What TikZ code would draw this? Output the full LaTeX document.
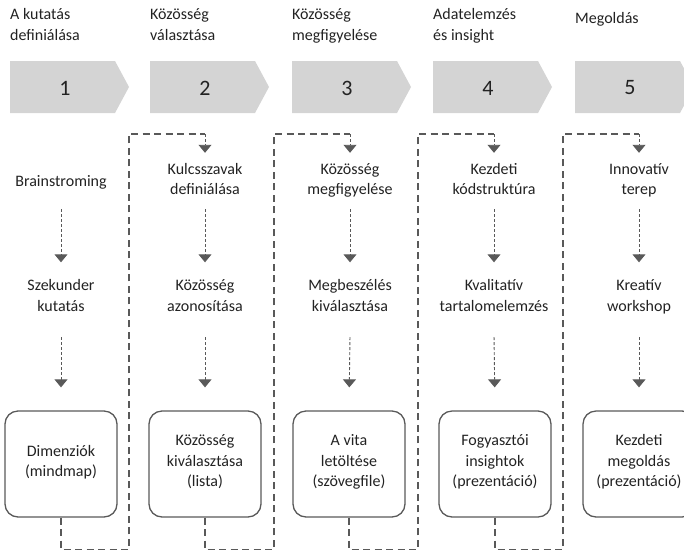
\documentclass[tikz,border=0pt]{standalone}
\usepackage{fontspec}
\setmainfont{Carlito}
\usetikzlibrary{arrows.meta}
\definecolor{chev}{HTML}{D4D4D4}
\definecolor{ln}{HTML}{595959}
\definecolor{txt}{HTML}{222222}
\newcommand{\txtfont}{\fontsize{16}{20.5}\selectfont}
\begin{document}
\begin{tikzpicture}[x=1pt,y=-1pt,
  hdr/.style={anchor=north west, align=left, inner sep=0pt, font=\txtfont, text=txt,
    execute at begin node=\strut},
  num/.style={anchor=center, inner sep=0pt, font=\fontsize{22}{26}\selectfont, text=txt},
  itemA/.style={align=center, inner sep=0pt, minimum height=54pt, font=\txtfont, text=txt,
    execute at begin node=\strut, execute at end node=\strut},
  itemB/.style={align=center, inner sep=0pt, minimum height=72pt, font=\txtfont, text=txt,
    execute at begin node=\strut, execute at end node=\strut},
  outbox/.style={draw=ln, line width=1.3pt, rounded corners=13pt, align=center,
    minimum width=112pt, minimum height=106pt, inner sep=0pt, font=\txtfont, text=txt,
    execute at begin node=\strut, execute at end node=\strut},
  conn/.style={draw=ln, line width=1.1pt, dash pattern=on 7pt off 4.5pt},
  fine/.style={draw=ln, line width=0.9pt, dash pattern=on 3pt off 2pt,
    -{Triangle[width=13pt,length=8pt,fill=ln]}},
]
\useasboundingbox (0,0) rectangle (684,552);
\clip (0,0) rectangle (684,552);

% chevrons
\foreach \i/\x in {1/10,2/150,3/292,4/433,5/575}{
  \fill[chev] (\x,61) -- (\x+105,61) -- (\x+119,87) -- (\x+105,113) -- (\x,113) -- cycle;
  \node[num] (n\i) at (\x+55,88) {\i};
}

% headers
\node[hdr] (h1) at (10,8.5) {A kutatás\\definiálása};
\node[hdr] (h2) at (150,8.5) {Közösség\\választása};
\node[hdr] (h3) at (292,8.5) {Közösség\\megfigyelése};
\node[hdr] (h4) at (433,8.5) {Adatelemzés\\és insight};
\node[hdr] (h5) at (575,8.5) {Megoldás};

% row 1
\node[itemA] (a1) at (61,182) {Brainstroming};
\node[itemA] (a2) at (205,182) {Kulcsszavak\\definiálása};
\node[itemA] (a3) at (350,182) {Közösség\\megfigyelése};
\node[itemA] (a4) at (494,182) {Kezdeti\\kódstruktúra};
\node[itemA] (a5) at (639,182) {Innovatív\\terep};

% row 2
\node[itemB] (b1) at (61,298.5) {Szekunder\\kutatás};
\node[itemB] (b2) at (205,298.5) {Közösség\\azonosítása};
\node[itemB] (b3) at (350,298.5) {Megbeszélés\\kiválasztása};
\node[itemB] (b4) at (494,298.5) {Kvalitatív\\tartalomelemzés};
\node[itemB] (b5) at (639,298.5) {Kreatív\\workshop};

% boxes
\node[outbox] (c1) at (61,464) {Dimenziók\\(mindmap)};
\node[outbox] (c2) at (205,464) {Közösség\\kiválasztása\\(lista)};
\node[outbox] (c3) at (349,464) {A vita\\letöltése\\(szövegfile)};
\node[outbox] (c4) at (495,464) {Fogyasztói\\insightok\\(prezentáció)};
\node[outbox] (c5) at (639,464) {Kezdeti\\megoldás\\(prezentáció)};

% in-column arrows
\foreach \i in {1,...,5}{
  \draw[fine] (a\i.south) -- (b\i.north);
  \draw[fine, shorten <=2.5pt, shorten >=23pt] (b\i.south) -- (c\i.north);
}

% connectors between columns
\coordinate (g1) at (129,549.5); \coordinate (k1) at (129,134); \coordinate (e2) at (205,134);
\coordinate (g2) at (274,549.5); \coordinate (k2) at (274,134); \coordinate (e3) at (350,134);
\coordinate (g3) at (418,549.5); \coordinate (k3) at (418,134); \coordinate (e4) at (494,134);
\coordinate (g4) at (563,549.5); \coordinate (k4) at (563,134); \coordinate (e5) at (639,134);

\draw[conn] (c1.south) |- (g1) -- (k1) -- (e2);
\draw[conn] (c2.south) |- (g2) -- (k2) -- (e3);
\draw[conn] (c3.south) |- (g3) -- (k3) -- (e4);
\draw[conn] (c4.south) |- (g4) -- (k4) -- (e5);

\draw[fine, shorten >=2pt] (e2) -- (a2.north);
\draw[fine, shorten >=2pt] (e3) -- (a3.north);
\draw[fine, shorten >=2pt] (e4) -- (a4.north);
\draw[fine, shorten >=2pt] (e5) -- (a5.north);
\end{tikzpicture}
\end{document}
